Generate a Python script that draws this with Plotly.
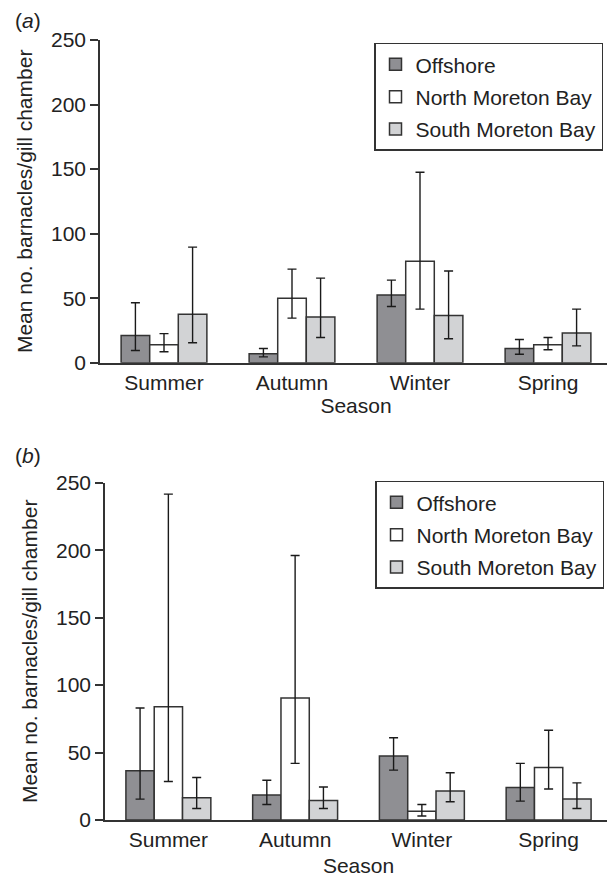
import plotly.graph_objects as go

seasons = ["Summer", "Autumn", "Winter", "Spring"]
series_names = ["Offshore", "North Moreton Bay", "South Moreton Bay"]
series_colors = ["#8f8f93", "#ffffff", "#d2d3d5"]

# Panel (a): means, upper and lower limits of error bars
a_mean = {
    "Offshore": [21, 7, 52.5, 11],
    "North Moreton Bay": [14, 50, 78.5, 14],
    "South Moreton Bay": [37.5, 35.5, 36.5, 23],
}
a_upper = {
    "Offshore": [46.5, 11, 64, 18],
    "North Moreton Bay": [22.5, 72.5, 147.5, 19.5],
    "South Moreton Bay": [89.5, 65.5, 71, 41.5],
}
a_lower = {
    "Offshore": [9.5, 4.5, 43.5, 6.5],
    "North Moreton Bay": [8.5, 34.5, 41.5, 10],
    "South Moreton Bay": [15.5, 19.5, 18.5, 13],
}

# Panel (b)
b_mean = {
    "Offshore": [36.5, 18.5, 47.5, 24],
    "North Moreton Bay": [84, 90.5, 6.5, 39],
    "South Moreton Bay": [16.5, 14.5, 21.5, 15.5],
}
b_upper = {
    "Offshore": [83, 29.5, 61, 42],
    "North Moreton Bay": [241.5, 196, 11.5, 66.5],
    "South Moreton Bay": [31.5, 24.5, 35, 27.5],
}
b_lower = {
    "Offshore": [15.5, 11.5, 37, 14],
    "North Moreton Bay": [28.5, 42, 3, 23],
    "South Moreton Bay": [8.5, 8.5, 13.5, 8.5],
}

y_ticks = [0, 50, 100, 150, 200, 250]
y_title = "Mean no. barnacles/gill chamber"
x_title = "Season"

FONT = "Liberation Sans, Arial, sans-serif"
FS = 21
TXT = "#222222"
LINE = "#333333"

fig = go.Figure()

panels = [
    ("x", "y", "legend", a_mean, a_upper, a_lower),
    ("x2", "y2", "legend2", b_mean, b_upper, b_lower),
]
for xa, ya, leg, mean, upper, lower in panels:
    for name, col in zip(series_names, series_colors):
        m = mean[name]
        up = [u - v for u, v in zip(upper[name], m)]
        lo = [v - l for v, l in zip(m, lower[name])]
        fig.add_trace(go.Bar(
            x=seasons, y=m, name=name, xaxis=xa, yaxis=ya, legend=leg,
            legendgroup=leg + name,
            marker=dict(color=col, line=dict(color=LINE, width=1.5)),
            error_y=dict(type="data", symmetric=False, array=up, arrayminus=lo,
                         color="#1a1a1a", thickness=1.4, width=4.5),
        ))

# page has an 8px body margin; figure sized to fit the window exactly
OFF = 8.0
W = 615.0 - OFF
H = 878.0 - OFF

def px(x):
    return (x - OFF) / W

def py(y):
    return 1 - (y - OFF) / H

axis_common = dict(showline=True, linecolor=LINE, linewidth=1.5, showgrid=False,
                   zeroline=False, tickfont=dict(family=FONT, size=FS, color=TXT),
                   automargin=False)

fig.update_layout(
    width=W, height=H,
    margin=dict(l=0, r=0, t=0, b=0),
    paper_bgcolor="white", plot_bgcolor="white",
    barmode="group", bargap=0.33, bargroupgap=0,
    showlegend=True,
    font=dict(family=FONT, size=FS, color=TXT),
    xaxis=dict(domain=[px(100), px(612)], anchor="y", ticks="", **axis_common,
               title=dict(text=x_title, font=dict(family=FONT, size=FS, color=TXT), standoff=6)),
    yaxis=dict(domain=[py(362.7), py(40)], anchor="x", range=[0, 250], tickvals=y_ticks,
               ticks="outside", ticklen=8, tickwidth=1.5, tickcolor=LINE, **axis_common,
               title=dict(text=y_title, font=dict(family=FONT, size=FS, color=TXT), standoff=13)),
    xaxis2=dict(domain=[px(105), px(612)], anchor="y2", ticks="", **axis_common,
                title=dict(text=x_title, font=dict(family=FONT, size=FS, color=TXT), standoff=8)),
    yaxis2=dict(domain=[py(820), py(482.7)], anchor="x2", range=[0, 250], tickvals=y_ticks,
                ticks="outside", ticklen=8, tickwidth=1.5, tickcolor=LINE, **axis_common,
                title=dict(text=y_title, font=dict(family=FONT, size=FS, color=TXT), standoff=13)),
    legend=dict(x=px(374), y=py(42.7), xanchor="left", yanchor="top",
                bordercolor=LINE, borderwidth=1.5, bgcolor="white",
                font=dict(family=FONT, size=FS, color=TXT), tracegroupgap=2),
    legend2=dict(x=px(375), y=py(480.7), xanchor="left", yanchor="top",
                 bordercolor=LINE, borderwidth=1.5, bgcolor="white",
                 font=dict(family=FONT, size=FS, color=TXT), tracegroupgap=2),
    annotations=[
        dict(text="(<i>a</i>)", x=px(13), y=py(21), xref="paper", yref="paper",
             xanchor="left", yanchor="middle", showarrow=False,
             font=dict(family=FONT, size=FS, color=TXT)),
        dict(text="(<i>b</i>)", x=px(13), y=py(455), xref="paper", yref="paper",
             xanchor="left", yanchor="middle", showarrow=False,
             font=dict(family=FONT, size=FS, color=TXT)),
    ],
)

fig.write_html("out.html")
